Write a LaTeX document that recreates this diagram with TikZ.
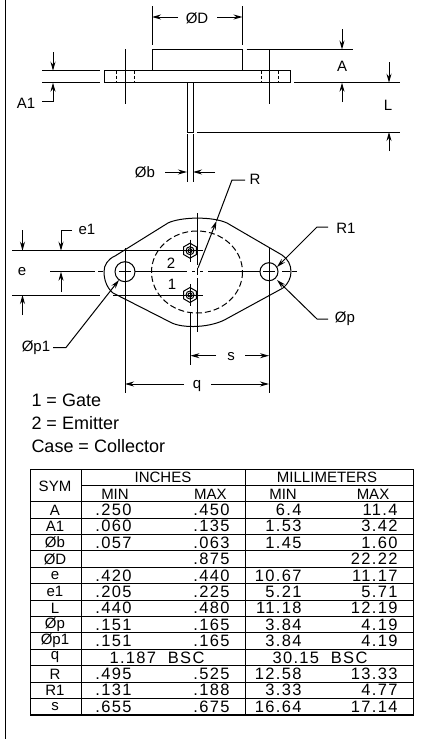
\documentclass[tikz,border=0pt]{standalone}
\usepackage{fontspec}
\usetikzlibrary{arrows.meta}
\setmainfont{Liberation Sans}
\newfontfamily\cadfont[LetterSpace=8]{Liberation Sans}
\tikzset{
  dim/.style={font=\fontsize{15}{15}\selectfont, inner sep=0pt},
  legend/.style={font=\fontsize{18}{18}\selectfont, anchor=west, inner sep=0pt},
  val/.style={font=\cadfont\fontsize{16.5}{16.5}\selectfont, inner sep=0pt, anchor=east},
  bsc/.style={font=\cadfont\fontsize{16.5}{16.5}\selectfont, inner sep=0pt},
  hole/.style={dash pattern=on 3pt off 2pt}
}
\begin{document}
\begin{tikzpicture}[x=1pt, y=-1pt, line width=1pt, >={Stealth[length=9pt,width=5pt]}]
\useasboundingbox (0,0) rectangle (421,739);
\draw (5.5,0) -- (5.5,739);
% side view
\draw (104,70.7) rectangle (290.5,82.7);
\draw (152,70.7) -- (152,49.5) -- (242.5,49.5) -- (242.5,70.7);
\draw (187,82.7) -- (187,132) -- (193,132) -- (193,82.7);
\draw (246.5,49.5) -- (353,49.5);
\draw (294,82.7) -- (400,82.7);
\draw (197,132) -- (400,132);
\draw (42,70.7) -- (100,70.7);
\draw (42,82.7) -- (100,82.7);
\draw (125,49) -- (125,104);
\draw (269,49.5) -- (269,104);
\draw[hole] (116,70.7) -- (116,82.7);
\draw[hole] (134.5,70.7) -- (134.5,82.7);
\draw[hole] (261,70.7) -- (261,82.7);
\draw[hole] (278.5,70.7) -- (278.5,82.7);
\draw (152,6) -- (152,45);
\draw (242.5,6) -- (242.5,45);
\draw (187,134) -- (187,182);
\draw (193,134) -- (193,182);
% side view dimensions
\node[dim] (phiD) at (197,18) {ØD};
\draw[->] (178,17) -- (152,17);
\draw[->] (217,17) -- (242.5,17);
\node[dim] (dimA) at (342,66) {A};
\draw[->] (342,29) -- (342,49.5);
\draw[->] (342,102) -- (342,82.7);
\node[dim] (dimL) at (388,105) {L};
\draw[->] (389,62) -- (389,82.7);
\draw[->] (389,151) -- (389,132);
\node[dim] (dimAone) at (26,103) {A1};
\draw[->] (53,52) -- (53,70.7);
\draw[->] (42,101) -- (53,101) -- (53,82.7);
\node[dim] (phib) at (145,172) {Øb};
\draw[->] (165,172) -- (187,172);
\draw[->] (215,172) -- (193,172);
\node[dim] (dimR) at (255,179) {R};
\draw (245,180) -- (232,180) -- (216.5,221);
\draw[->] (198,268) -- (216.5,221);
% bottom view
\draw (115,256) -- (168,223) .. controls (180,217) and (212,216) .. (227,223) -- (282,255)
  .. controls (288,259) and (291,265) .. (291,271.7) .. controls (291,278) and (288,284) .. (283,288)
  -- (228,318) .. controls (212,328) and (182,329) .. (170,322) -- (113,293)
  .. controls (107,288) and (104,280) .. (104,271.7) .. controls (104,265) and (108,259) .. (115,256);
\draw[dash pattern=on 6pt off 3pt] (197,272) ellipse [x radius=45.5, y radius=41];
\draw (125,271.7) circle (10);
\draw (269,271.7) circle (9);
\foreach \hexy in {250.7,295} {
  \draw (190,\hexy) +(90:7.5) -- +(30:7.5) -- +(-30:7.5) -- +(-90:7.5) -- +(-150:7.5) -- +(150:7.5) -- cycle;
  \draw (190,\hexy) circle (4);
  \draw (190,\hexy) circle (2);
  \draw (190,\hexy-11) -- (190,\hexy+11);
}
% centre lines
\draw (50,271.7) -- (95,271.7);
\draw (98,271.7) -- (103,271.7);
\draw (119,271.7) -- (131,271.7);
\draw (135,271.7) -- (187,271.7);
\draw (192,271.7) -- (195,271.7);
\draw (200,271.7) -- (203,271.7);
\draw (208,271.7) -- (260,271.7);
\draw (263,271.7) -- (275,271.7);
\draw (282,271.7) -- (290,271.7);
\draw (292,271.7) -- (296.5,271.7);
\draw (197,213) -- (197,265);
\draw (197,268) -- (197,275);
\draw (197,278) -- (197,332);
\draw (12,250.7) -- (203,250.7);
\draw (12,295) -- (100,295);
\draw (113,295) -- (203,295);
\draw (125,248) -- (125,393);
\draw (269,248) -- (269,393);
\draw (190.5,313) -- (190.5,365);
\node[dim] (pinTwo) at (171,263) {2};
\node[dim] (pinOne) at (172,284.5) {1};
% bottom view dimensions
\node[dim] (dime) at (22,272) {e};
\draw[->] (22.5,230) -- (22.5,250.7);
\draw[->] (22.5,315) -- (22.5,295);
\node[dim] (dimeone) at (87,229) {e1};
\draw[->] (72,230) -- (61,230) -- (61,250.7);
\draw[->] (61,292) -- (61,271.7);
\node[dim] (dimRone) at (346,228) {R1};
\draw[->] (328,227) -- (317,227) -- (277,267);
\node[dim] (phip) at (345,319) {Øp};
\draw[->] (328,319) -- (317,319) -- (277,280);
\node[dim] (phipone) at (36,348) {Øp1};
\draw[->] (53,347.5) -- (66,347.5) -- (119,280);
\node[dim] (dims) at (231,357) {s};
\draw[->] (216,355.7) -- (190.5,355.7);
\draw[->] (245,355.7) -- (269,355.7);
\node[dim] (dimq) at (197,386) {q};
\draw[->] (184,384) -- (125,384);
\draw[->] (211,384) -- (269,384);
% legend
\node[legend] (gate) at (31,400.7) {1 = Gate};
\node[legend] (emitter) at (31,423.5) {2 = Emitter};
\node[legend] (collector) at (31,446) {Case = Collector};
% table
\draw (30.5,469.3) rectangle (413.5,715);
\draw (81,469.3) -- (81,715);
\draw (245,469.3) -- (245,715);
\draw (81,485.7) -- (413.5,485.7);
\draw (30.5,501.7) -- (413.5,501.7);
\node[dim] (sym) at (55,486.7) {SYM};
\node[dim] (inches) at (163,477.5) {INCHES};
\node[dim] (millimeters) at (327,477.5) {MILLIMETERS};
\node[dim] (minA) at (115,494) {MIN};
\node[dim] (maxA) at (210.5,494) {MAX};
\node[dim] (minB) at (283,494) {MIN};
\node[dim] (maxB) at (373,494) {MAX};
\foreach \sym/\mina/\maxa/\minb/\maxb [count=\i, evaluate=\i as \rowy using 509.9+16.4*(\i-1), evaluate=\i as \liney using 501.7+16.4*\i] in
  {A/.250/.450/6.4/11.4, A1/.060/.135/1.53/3.42, Øb/.057/.063/1.45/1.60, ØD//.875//22.22,
   e/.420/.440/10.67/11.17, e1/.205/.225/5.21/5.71, L/.440/.480/11.18/12.19, Øp/.151/.165/3.84/4.19,
   Øp1/.151/.165/3.84/4.19, q////, R/.495/.525/12.58/13.33, R1/.131/.188/3.33/4.77, s/.655/.675/16.64/17.14} {
  \draw (30.5,\liney) -- (413.5,\liney);
  \node[dim] (sym\i) at (55,\rowy) {\sym};
  \node[val] (mina\i) at (132,\rowy) {\mina};
  \node[val] (maxa\i) at (230,\rowy) {\maxa};
  \node[val] (minb\i) at (302,\rowy) {\minb};
  \node[val] (maxb\i) at (398,\rowy) {\maxb};
}
\node[bsc] (bscA) at (157,657.7) {1.187\ \ BSC};
\node[bsc] (bscB) at (320,657.7) {30.15\ \ BSC};
\end{tikzpicture}
\end{document}
